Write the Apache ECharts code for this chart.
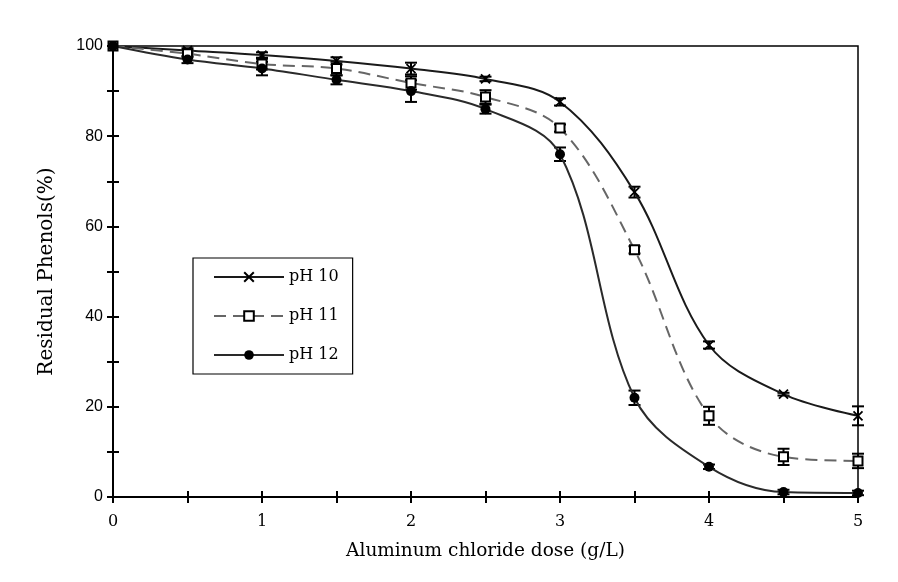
<!DOCTYPE html>
<html>
<head>
<meta charset="utf-8">
<script src="https://cdn.jsdelivr.net/npm/echarts@6/dist/echarts.min.js"></script>
<style>
  html, body { margin: 0; padding: 0; background: #fff; }
  #chart { width: 898px; height: 582px; }
</style>
</head>
<body>
<div id="chart"></div>
<script>
// dose (g/L)
var doses = [0, 0.5, 1, 1.5, 2, 2.5, 3, 3.5, 4, 4.5, 5];
// residual phenols (%)
var ph10 = [100, 99, 98, 96.7, 95, 92.7, 87.6, 67.6, 33.7, 22.8, 18];
var ph11 = [100, 98.3, 96, 95, 91.8, 88.7, 81.8, 54.8, 18, 8.9, 8];
var ph12 = [100, 97, 95, 92.5, 90, 86, 76, 22, 6.7, 1.1, 0.9];
// error bar half widths
var err10 = [0, 0.5, 0.6, 0.8, 1.3, 0.5, 0.8, 1.2, 0.8, 0.3, 2.1];
var err11 = [0, 0.8, 1.2, 1.5, 1.5, 1.5, 0.8, 0.8, 2.0, 1.8, 1.6];
var err12 = [0, 0.8, 1.5, 1.0, 2.4, 1.0, 1.5, 1.6, 0.5, 0.5, 0.5];
var xTicks = ['0', '1', '2', '3', '4', '5'];
var yTicks = ['0', '20', '40', '60', '80', '100'];

var serif = '"DejaVu Serif", "Liberation Serif", serif';
var sans = '"Liberation Sans", Arial, sans-serif';
var smooth = 0.35;

function pairs(ys) {
  return doses.map(function (x, i) { return [x, ys[i]]; });
}

function errData(ys, es) {
  return doses.map(function (x, i) { return [x, ys[i] - es[i], ys[i] + es[i]]; });
}

function errSeries(ys, es) {
  return {
    type: 'custom',
    data: errData(ys, es),
    z: 3,
    silent: true,
    renderItem: function (params, api) {
      var x = api.value(0), lo = api.value(1), hi = api.value(2);
      if (hi - lo <= 0) return null;
      var top = api.coord([x, hi]), bot = api.coord([x, lo]);
      var w = 6;
      var st = { stroke: '#000', lineWidth: 2 };
      return {
        type: 'group',
        children: [
          { type: 'line', shape: { x1: top[0], y1: top[1], x2: bot[0], y2: bot[1] }, style: st },
          { type: 'line', shape: { x1: top[0] - w, y1: top[1], x2: top[0] + w, y2: top[1] }, style: st },
          { type: 'line', shape: { x1: bot[0] - w, y1: bot[1], x2: bot[0] + w, y2: bot[1] }, style: st }
        ]
      };
    }
  };
}

var chart = echarts.init(document.getElementById('chart'));

var baseX = {
  type: 'value', min: 0, max: 5, interval: 0.5,
  splitLine: { show: false }
};
var baseY = {
  type: 'value', min: 0, max: 100, interval: 10,
  splitLine: { show: false }
};

chart.setOption({
  animation: false,
  backgroundColor: '#fff',
  grid: {
    left: 113, right: 40, top: 46, bottom: 85,
    show: true, borderColor: '#000', borderWidth: 1.5
  },
  legend: {
    data: ['pH 10', 'pH 11', 'pH 12'],
    orient: 'vertical',
    left: 193, top: 258,
    padding: [11, 14, 11, 20],
    itemWidth: 70, itemHeight: 12, itemGap: 23,
    borderColor: '#000', borderWidth: 1.2,
    backgroundColor: '#fff',
    textStyle: { fontFamily: serif, fontSize: 16, color: '#000' }
  },
  xAxis: [
    Object.assign({}, baseX, {
      name: 'Aluminum chloride dose (g/L)',
      nameLocation: 'middle', nameGap: 45,
      nameTextStyle: { fontFamily: serif, fontSize: 18.5, color: '#000' },
      axisLine: { lineStyle: { color: '#000', width: 2 } },
      axisTick: { length: 6, lineStyle: { color: '#000', width: 2 } },
      axisLabel: {
        margin: 17, fontFamily: serif, fontSize: 16, color: '#000',
        formatter: function (v) { return xTicks.indexOf(String(v)) >= 0 ? String(v) : ''; }
      }
    }),
    Object.assign({}, baseX, {
      position: 'bottom',
      axisLine: { show: false },
      axisTick: { inside: true, length: 6, lineStyle: { color: '#000', width: 2 } },
      axisLabel: { show: false }
    })
  ],
  yAxis: [
    Object.assign({}, baseY, {
      name: 'Residual Phenols(%)',
      nameLocation: 'middle', nameGap: 56,
      nameTextStyle: { fontFamily: serif, fontSize: 20, color: '#000' },
      axisLine: { lineStyle: { color: '#000', width: 2 } },
      axisTick: { length: 6, lineStyle: { color: '#000', width: 2 } },
      axisLabel: {
        margin: 10, fontFamily: sans, fontSize: 16, color: '#000',
        formatter: function (v) { return yTicks.indexOf(String(v)) >= 0 ? String(v) : ''; }
      }
    }),
    Object.assign({}, baseY, {
      position: 'left',
      axisLine: { show: false },
      axisTick: { inside: true, length: 6, lineStyle: { color: '#000', width: 2 } },
      axisLabel: { show: false }
    })
  ],
  series: [
    errSeries(ph10, err10),
    errSeries(ph11, err11),
    errSeries(ph12, err12),
    {
      name: 'pH 10', type: 'line', data: pairs(ph10), smooth: smooth, z: 4,
      symbol: 'path://M0,0L10,10M10,0L0,10', symbolSize: 9,
      itemStyle: { color: '#000', borderColor: '#000', borderWidth: 1.8 },
      lineStyle: { color: '#1a1a1a', width: 2 }
    },
    {
      name: 'pH 11', type: 'line', data: pairs(ph11), smooth: smooth, z: 4,
      symbol: 'rect', symbolSize: 9,
      itemStyle: { color: '#fff', borderColor: '#000', borderWidth: 2 },
      lineStyle: { color: '#666', width: 2, type: [12, 7] }
    },
    {
      name: 'pH 12', type: 'line', data: pairs(ph12), smooth: smooth, z: 4,
      symbol: 'circle', symbolSize: 10,
      itemStyle: { color: '#000' },
      lineStyle: { color: '#2a2a2a', width: 2 }
    }
  ]
});
</script>
</body>
</html>
